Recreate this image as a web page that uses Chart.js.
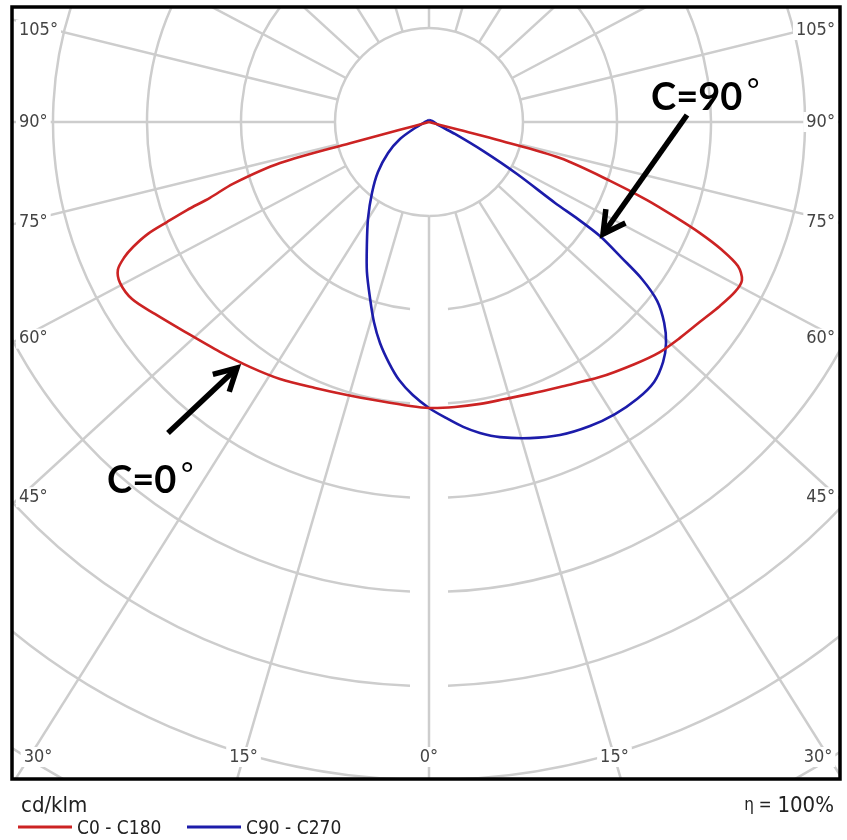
<!DOCTYPE html>
<html>
<head>
<meta charset="utf-8">
<script src="https://cdn.jsdelivr.net/npm/chart.js@4.4.1/dist/chart.umd.min.js"></script>
<style>
  html, body { margin: 0; padding: 0; background: #fff; overflow: hidden; }
  canvas { display: block; }
</style>
</head>
<body>
<canvas id="polar" width="847" height="840"></canvas>
<script>
// gamma angles (deg from nadir) and luminous intensity (cd/klm) per C-plane
const gammaC0   = [0, 5.2, 10.3, 15.3, 20.4, 26.3, 33.8, 40.4, 45.1, 49.3, 53.6, 57.7, 61, 63.2, 65, 66.4, 67.7, 68.9, 70.3, 72, 74.6, 75.3, 75.3, 75.3, 90];
const intensC0  = [152.1, 152.2, 152.4, 152.8, 154.3, 157.2, 163.3, 169, 173.4, 176.1, 179.1, 183.1, 186.2, 186.5, 181.3, 170.1, 155.8, 140.3, 123.2, 101.3, 72.3, 39, 17, 6.1, 0];
const gammaC180  = [0, 3.8, 10, 16.7, 23.2, 30.1, 36.2, 42.3, 49.3, 55, 59.2, 62.5, 64.6, 66, 67.1, 68.3, 69.1, 70, 70.9, 72.5, 74.6, 75, 75, 90];
const intensC180 = [152.1, 151.4, 150.7, 151.6, 153.9, 158, 161.4, 165.3, 171.2, 178, 183.9, 185.3, 183.2, 177.6, 170.9, 160.9, 149.2, 137, 123.3, 109.4, 82.2, 43.5, 16, 0];
const gammaC90  = [0, 3.3, 6.4, 9.3, 12.7, 17.7, 22.7, 27.9, 32.5, 36.9, 40.9, 44.3, 47, 49.5, 51.9, 53.6, 54.8, 56.3, 56.9, 57.3, 59.4, 61.8, 65.2, 70, 108, 180];
const intensC90 = [152.1, 157.7, 163.2, 167.6, 171.8, 176.5, 180.5, 183, 184.2, 184.3, 182.9, 178.3, 172.4, 164.5, 154.2, 140.7, 125.6, 109.3, 94.6, 79.7, 54.4, 32.6, 15.2, 6.2, 1.7, 1.1];
const gammaC270  = [0, 3.4, 6.6, 9.4, 12.5, 15.4, 18.4, 22.5, 26.8, 32.4, 38.8, 45.6, 52.9, 59.6, 66.8, 90, 180];
const intensC270 = [152.1, 145.5, 138.2, 130, 120.4, 110.3, 99.2, 86.3, 73.3, 60.5, 48.4, 38, 27.3, 17.9, 8.1, 2.1, 1.1];

const sideLabels   = [105, 90, 75, 60, 45];   // on left and right edges
const bottomLabels = [30, 15, 0];             // along the bottom edge, mirrored
const ringStep = 50;                          // cd/klm per circle
const ringCount = 9;

// layout
const FRAME = { left: 12, top: 7, right: 840, bottom: 779 };
const CENTER = { x: 429, y: 122 };
const PX_PER_UNIT = 94 / ringStep;
const SPOKE_STRETCH = 1.09;
const GRID = '#cdcdcd';
const RED = '#cc2323';
const BLUE = '#1c1caa';
const FONT = "'DejaVu Sans Condensed', 'DejaVu Sans', sans-serif";

function toXY(g, i) {
  const a = g * Math.PI / 180;
  return { x: i * Math.sin(a), y: -i * Math.cos(a) };
}

// one closed curve: left half-plane (negative gamma) then right half-plane
function curve(gLeft, iLeft, gRight, iRight) {
  const pts = [];
  for (let k = gLeft.length - 1; k >= 0; k--) pts.push(toXY(-gLeft[k], iLeft[k]));
  for (let k = 1; k < gRight.length; k++) pts.push(toXY(gRight[k], iRight[k]));
  return pts;
}

function labelBox(ctx, text, x, y, align) {
  const w = ctx.measureText(text).width;
  let x0 = align === 'left' ? x : align === 'right' ? x - w : x - w / 2;
  ctx.fillStyle = '#fff';
  ctx.fillRect(x0 - 3, y - 10, w + 6, 20);
  ctx.fillStyle = '#444';
  ctx.textAlign = align;
  ctx.fillText(text, x, y);
}

const polarGrid = {
  id: 'polarGrid',
  beforeDatasetsDraw(chart) {
    const { ctx, chartArea: area, scales: { x, y } } = chart;
    const cx = x.getPixelForValue(0), cy = y.getPixelForValue(0);
    const unit = x.getPixelForValue(ringStep) - cx;
    ctx.save();
    ctx.beginPath();
    ctx.rect(area.left, area.top, area.right - area.left, area.bottom - area.top);
    ctx.clip();
    ctx.strokeStyle = GRID;
    ctx.lineWidth = 2.5;

    for (let k = 1; k <= ringCount; k++) {
      const r = k * unit;
      const gap = k === 1 ? 0 : 19 / r;
      ctx.beginPath();
      ctx.arc(cx, cy, r, Math.PI / 2 + gap, Math.PI / 2 - gap + 2 * Math.PI);
      ctx.stroke();
    }

    const dirs = {};
    for (let a = 0; a < 360; a += 15) {
      const t = a * Math.PI / 180;
      let dx = SPOKE_STRETCH * Math.sin(t), dy = Math.cos(t);
      const n = Math.hypot(dx, dy);
      dx /= n; dy /= n;
      dirs[a] = { dx, dy };
      ctx.beginPath();
      ctx.moveTo(cx + dx * unit, cy + dy * unit);
      ctx.lineTo(cx + dx * 2000, cy + dy * 2000);
      ctx.stroke();
    }

    ctx.font = '18px ' + FONT;
    ctx.textBaseline = 'middle';
    sideLabels.forEach(a => {
      const d = dirs[a];
      const slope = d.dy / Math.abs(d.dx);
      const txt = a + '°';
      let yl = cy + (cx - (area.left + 8)) * slope;
      yl = Math.max(yl, area.top + 23);
      labelBox(ctx, txt, area.left + 7, yl, 'left');
      labelBox(ctx, txt, area.right - 5, yl, 'right');
    });
    const yb = area.bottom - 22;
    bottomLabels.forEach(a => {
      const d = dirs[a];
      const off = (yb - cy) * Math.abs(d.dx) / d.dy;
      const txt = a + '°';
      labelBox(ctx, txt, Math.max(cx - off, area.left + 26), yb, 'center');
      if (a !== 0) labelBox(ctx, txt, Math.min(cx + off, area.right - 22), yb, 'center');
    });
    ctx.restore();
  }
};

function arrow(ctx, x1, y1, x2, y2) {
  const ang = Math.atan2(y2 - y1, x2 - x1);
  const len = 25, spread = 0.5;
  ctx.beginPath();
  ctx.moveTo(x1, y1);
  ctx.lineTo(x2, y2);
  ctx.stroke();
  ctx.beginPath();
  ctx.moveTo(x2 - len * Math.cos(ang - spread), y2 - len * Math.sin(ang - spread));
  ctx.lineTo(x2, y2);
  ctx.lineTo(x2 - len * Math.cos(ang + spread), y2 - len * Math.sin(ang + spread));
  ctx.stroke();
}

const notes = {
  id: 'notes',
  afterDatasetsDraw(chart) {
    const { ctx } = chart;
    ctx.save();
    ctx.strokeStyle = '#000';
    ctx.fillStyle = '#000';
    ctx.lineWidth = 5.5;
    ctx.lineJoin = 'miter';
    arrow(ctx, 687, 115, 603, 234);
    arrow(ctx, 168, 433, 237, 368);
    ctx.textAlign = 'left';
    ctx.textBaseline = 'alphabetic';
    ctx.font = 'bold 38px Lato, sans-serif';
    ctx.fillText('C=90', 651, 110);
    ctx.fillText('C=0', 107, 493);
    ctx.font = '30px Lato, sans-serif';
    ctx.fillText('°', 747, 101);
    ctx.fillText('°', 181, 485);
    ctx.restore();
  },
  afterDraw(chart) {
    const { ctx, chartArea: area } = chart;
    ctx.save();
    ctx.strokeStyle = '#000';
    ctx.lineWidth = 3.5;
    ctx.strokeRect(area.left, area.top, area.right - area.left, area.bottom - area.top);

    ctx.fillStyle = '#222';
    ctx.textBaseline = 'alphabetic';
    ctx.textAlign = 'left';
    ctx.font = '22px ' + FONT;
    ctx.fillText('cd/klm', 21, 812);

    const items = chart.data.datasets;
    const xs = [18, 187];
    items.forEach((ds, k) => {
      ctx.strokeStyle = ds.borderColor;
      ctx.lineWidth = 3;
      ctx.beginPath();
      ctx.moveTo(xs[k], 827);
      ctx.lineTo(xs[k] + 54, 827);
      ctx.stroke();
      ctx.fillStyle = '#222';
      ctx.font = '19px ' + FONT;
      ctx.fillText(ds.label, xs[k] + 59, 834);
    });

    ctx.textAlign = 'right';
    ctx.font = '22px ' + FONT;
    ctx.fillText('100%', 834, 812);
    const w = ctx.measureText('100%').width;
    ctx.font = '17px ' + FONT;
    ctx.fillText('η = ', 834 - w - 1, 810);
    ctx.restore();
  }
};

const xMin = -(CENTER.x - FRAME.left) / PX_PER_UNIT;
const xMax = (FRAME.right - CENTER.x) / PX_PER_UNIT;
const yMax = (CENTER.y - FRAME.top) / PX_PER_UNIT;
const yMin = -(FRAME.bottom - CENTER.y) / PX_PER_UNIT;

new Chart(document.getElementById('polar').getContext('2d'), {
  type: 'scatter',
  data: {
    datasets: [
      {
        label: 'C0 - C180',
        data: curve(gammaC180, intensC180, gammaC0, intensC0),
        borderColor: RED
      },
      {
        label: 'C90 - C270',
        data: curve(gammaC270, intensC270, gammaC90, intensC90),
        borderColor: BLUE
      }
    ].map(ds => Object.assign(ds, { showLine: true, borderWidth: 2.6, pointRadius: 0, tension: 0.3, fill: false }))
  },
  options: {
    responsive: false,
    devicePixelRatio: 1,
    animation: false,
    layout: { padding: { left: FRAME.left, top: FRAME.top, right: 847 - FRAME.right, bottom: 840 - FRAME.bottom } },
    scales: {
      x: { type: 'linear', display: false, min: xMin, max: xMax },
      y: { type: 'linear', display: false, min: yMin, max: yMax }
    },
    plugins: { legend: { display: false }, tooltip: { enabled: false } }
  },
  plugins: [polarGrid, notes]
});
</script>
</body>
</html>
